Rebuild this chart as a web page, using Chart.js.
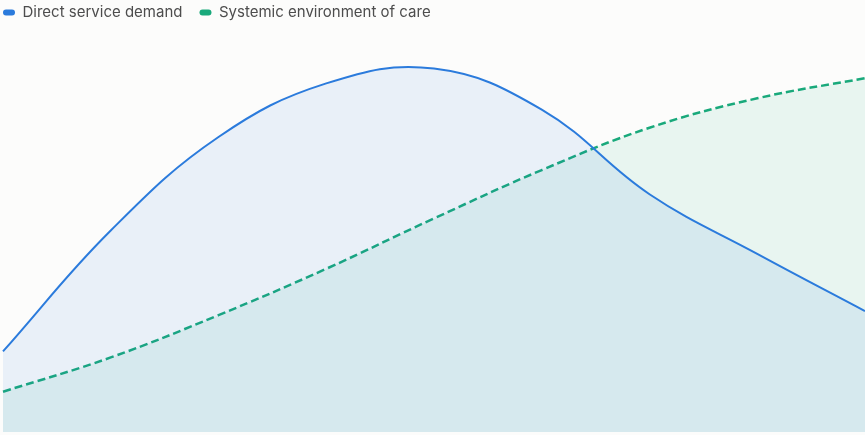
<!DOCTYPE html>
<html>
<head>
<meta charset="utf-8">
<script src="https://cdn.jsdelivr.net/npm/chart.js@4.4.1/dist/chart.umd.min.js"></script>
<style>
  html, body { margin: 0; padding: 0; background: #fcfcfb; }
  #wrap { width: 865px; height: 435px; position: relative; }
</style>
</head>
<body>
<div id="wrap"><canvas id="c"></canvas></div>
<script>
const categories = ["1", "2", "3", "4", "5", "6", "7", "8", "9"];
const directServiceDemand = [20, 50, 73.2, 86.5, 90.2, 80, 59, 44.2, 30];
const systemicEnvironment = [10, 18.5, 29, 40.5, 53, 65, 75.5, 82.8, 87.8];
const seriesNames = ["Direct service demand", "Systemic environment of care"];

const legendShift = {
  id: 'legendShift',
  afterLayout(chart) {
    if (chart.legend) { chart.legend.left = -14; chart.legend.top += 1; }
  }
};

new Chart(document.getElementById('c'), {
  type: 'line',
  data: {
    labels: categories,
    datasets: [
      {
        label: seriesNames[0],
        data: directServiceDemand,
        borderColor: '#2b7bdc',
        backgroundColor: 'rgba(43,123,220,0.09)',
        borderWidth: 2,
        fill: 'origin',
        tension: 0.4,
        pointRadius: 0
      },
      {
        label: seriesNames[1],
        data: systemicEnvironment,
        borderColor: '#19a97b',
        backgroundColor: 'rgba(25,169,123,0.085)',
        borderWidth: 2.5,
        borderDash: [8, 4],
        fill: 'origin',
        tension: 0.4,
        pointRadius: 0
      }
    ]
  },
  options: {
    responsive: true,
    maintainAspectRatio: false,
    animation: false,
    layout: { padding: { top: -13, left: 3, right: 0, bottom: 3 } },
    plugins: {
      legend: {
        display: true,
        position: 'top',
        align: 'start',
        labels: {
          boxWidth: 12,
          boxHeight: 6,
          useBorderRadius: true,
          borderRadius: 3,
          padding: 17,
          color: '#4d4d4d',
          font: { family: 'Inter', size: 15 },
          generateLabels(chart) {
            return chart.data.datasets.map((ds, i) => ({
              text: ds.label,
              fillStyle: ds.borderColor,
              strokeStyle: ds.borderColor,
              lineWidth: 0,
              lineDash: [],
              borderRadius: 3,
              fontColor: '#4d4d4d',
              hidden: false,
              datasetIndex: i
            }));
          }
        }
      },
      tooltip: { enabled: false }
    },
    scales: {
      x: { display: false },
      y: { display: false, min: 0, max: 100 }
    }
  },
  plugins: [legendShift]
});
</script>
</body>
</html>
